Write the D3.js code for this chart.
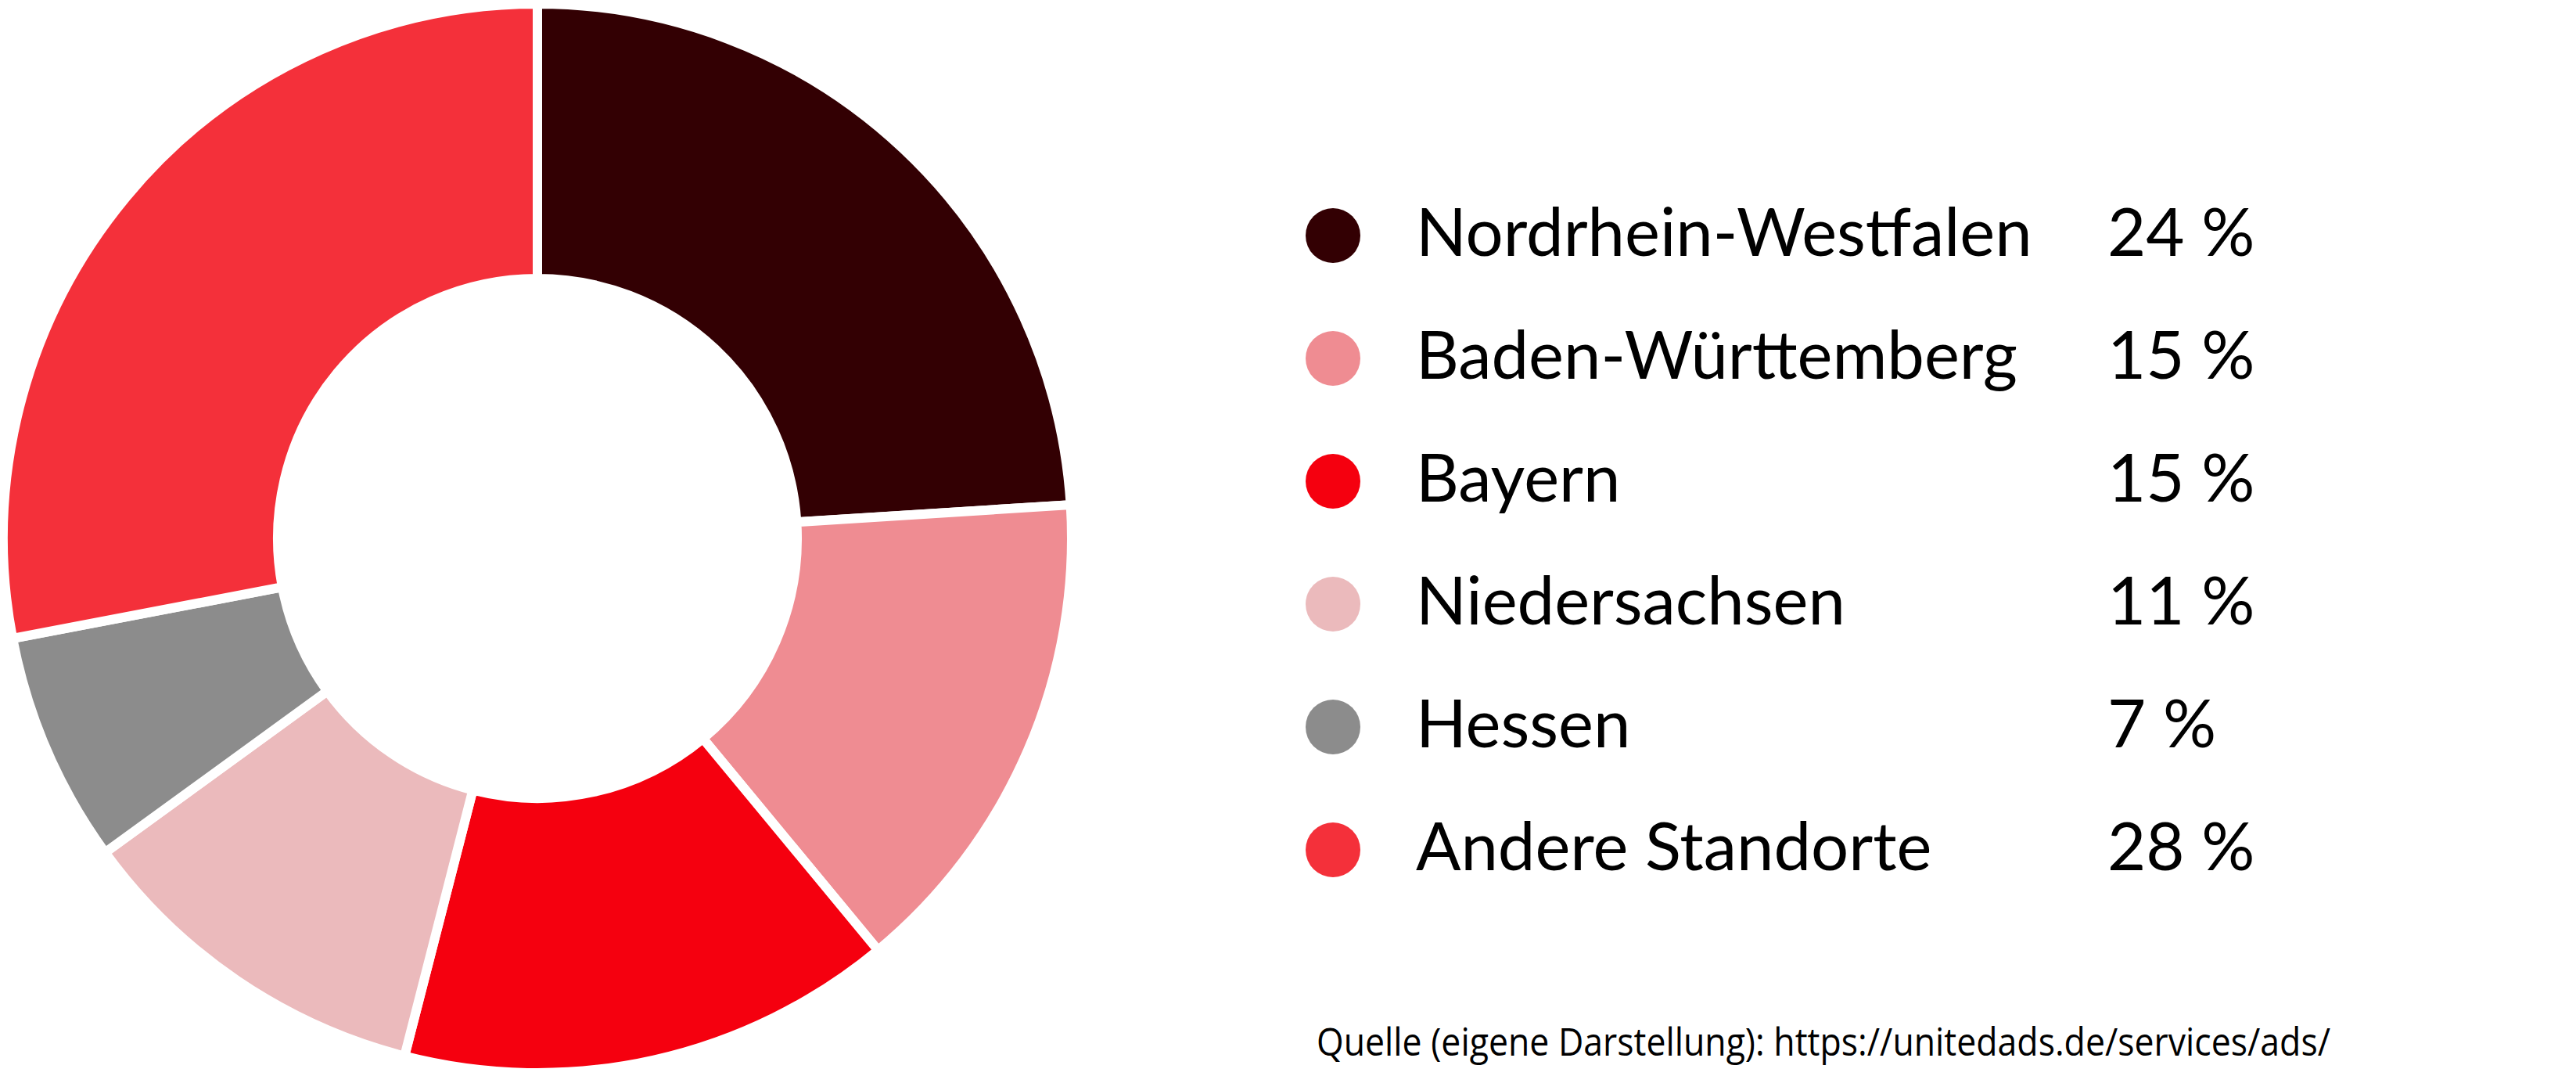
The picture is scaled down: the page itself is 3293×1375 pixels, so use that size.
<!DOCTYPE html>
<html>
<head>
<meta charset="utf-8">
<script src="https://cdn.jsdelivr.net/npm/d3@7"></script>
<style>
  html, body { margin: 0; padding: 0; background: #ffffff; }
  svg { display: block; }
</style>
</head>
<body>
<svg id="chart" width="3293" height="1375"></svg>
<script>
const categories = ["Nordrhein-Westfalen", "Baden-Württemberg", "Bayern", "Niedersachsen", "Hessen", "Andere Standorte"];
const values = [24, 15, 15, 11, 7, 28];
const valueLabels = ["24 %", "15 %", "15 %", "11 %", "7 %", "28 %"];
const colors = ["#330003", "#ef8c92", "#f5000f", "#ebbabc", "#8c8c8c", "#f4303a"];
const sourceText = "Quelle (eigene Darstellung): https://unitedads.de/services/ads/";

const W = 3293, H = 1375;
const svg = d3.select("#chart");

const cx = 687, cy = 688;
const strokeW = 12;
const outerR = 677 + strokeW / 2;
const innerR = 338 - strokeW / 2;

const data = categories.map((c, i) => ({ name: c, value: values[i], label: valueLabels[i] }));
const color = d3.scaleOrdinal().domain(categories).range(colors);

const pie = d3.pie().value(d => d.value).sort(null);
const arc = d3.arc().innerRadius(innerR).outerRadius(outerR);

svg.append("g")
  .attr("transform", `translate(${cx},${cy})`)
  .selectAll("path")
  .data(pie(data))
  .join("path")
  .attr("d", arc)
  .attr("fill", d => color(d.data.name))
  .attr("stroke", "#ffffff")
  .attr("stroke-width", strokeW)
  .attr("stroke-linejoin", "miter");

// Legend
const y = d3.scalePoint().domain(categories).range([301, 1086]);
const legend = svg.append("g");
const rows = legend.selectAll("g").data(data).join("g")
  .attr("transform", d => `translate(0,${y(d.name)})`);

rows.append("circle")
  .attr("cx", 1704)
  .attr("cy", 0)
  .attr("r", 35)
  .attr("fill", d => color(d.name));

const fontFam = "Lato, 'Noto Sans', sans-serif";
rows.append("text")
  .attr("x", 1810)
  .attr("y", 26)
  .attr("font-family", fontFam)
  .attr("font-size", 85)
  .attr("fill", "#000")
  .text(d => d.name);

rows.append("text")
  .attr("x", 2694)
  .attr("y", 26)
  .attr("font-family", fontFam)
  .attr("font-size", 85)
  .attr("fill", "#000")
  .text(d => d.label);

svg.append("text")
  .attr("x", 1683)
  .attr("y", 1349)
  .attr("font-family", "'Open Sans', 'Noto Sans', sans-serif")
  .attr("font-size", 50)
  .attr("fill", "#000")
  .attr("textLength", 1296)
  .attr("lengthAdjust", "spacingAndGlyphs")
  .text(sourceText);
</script>
</body>
</html>
